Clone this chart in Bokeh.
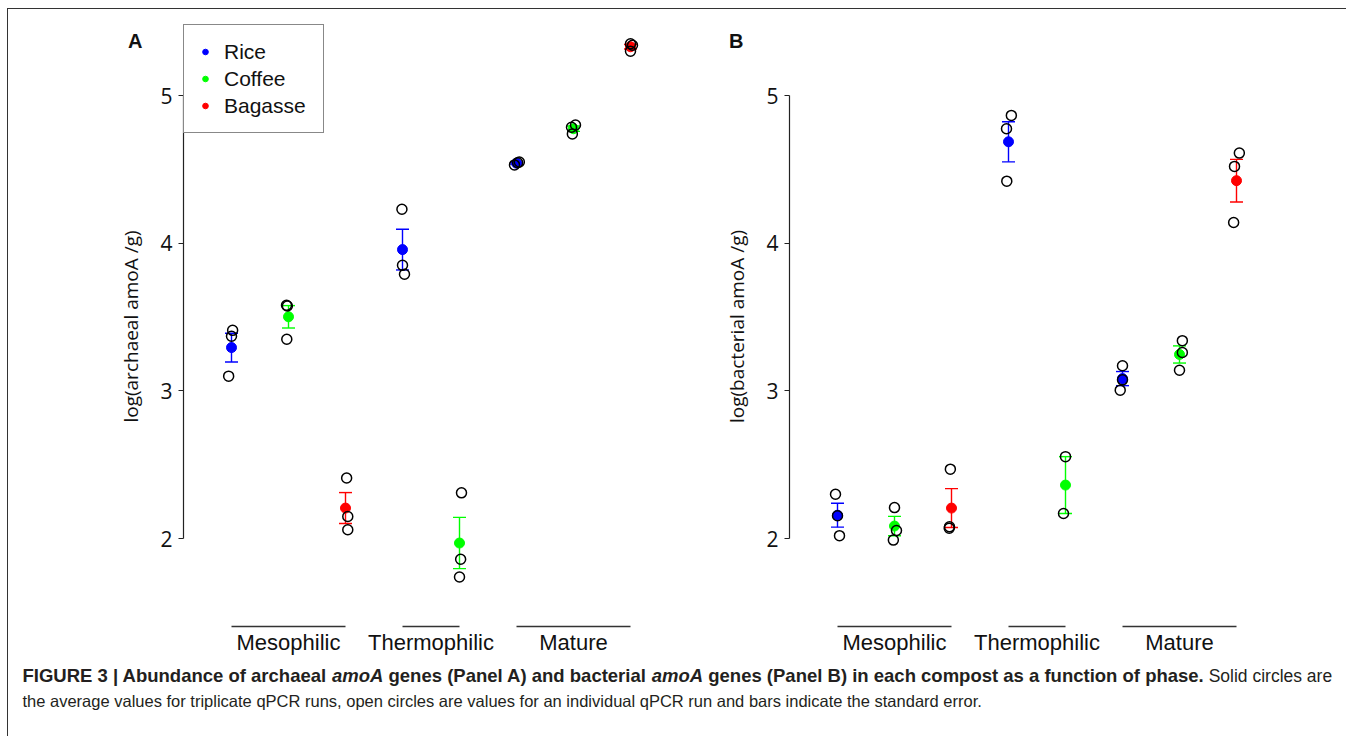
import json
import numpy as np
from bokeh.plotting import figure
from bokeh.models import (Range1d, Legend, LegendItem, ColumnDataSource, FixedTicker, LinearAxis,
                          CustomJSTickFormatter)
from bokeh.layouts import column, row
from bokeh.embed import file_html
from bokeh.resources import INLINE
from bokeh.core.properties import value

# ---------------- data ----------------
composts = ["Rice", "Coffee", "Bagasse"]
compost_colors = ["#0000ff", "#00ff00", "#ff0000"]
phases = ["Mesophilic", "Thermophilic", "Mature"]
phase_members = [["Rice", "Coffee", "Bagasse"], ["Rice", "Coffee"], ["Rice", "Coffee", "Bagasse"]]

# individual qPCR runs, log(archaeal amoA /g), in group order
archaeal_runs = [
    [3.41, 3.37, 3.10],
    [3.58, 3.575, 3.35],
    [2.41, 2.15, 2.06],
    [4.23, 3.85, 3.79],
    [2.31, 1.86, 1.74],
    [4.53, 4.545, 4.55],
    [4.74, 4.80, 4.785],
    [5.35, 5.30, 5.34],
]
archaeal_jitter = [
    [0.02, 0.0, -0.05],
    [-0.035, -0.02, -0.03],
    [0.02, 0.04, 0.04],
    [-0.01, 0.0, 0.035],
    [0.035, 0.02, 0.0],
    [-0.035, 0.02, 0.05],
    [-0.02, 0.035, -0.035],
    [0.0, 0.0, 0.035],
]
# individual qPCR runs, log(bacterial amoA /g)
bacterial_runs = [
    [2.30, 2.155, 2.02],
    [2.21, 2.055, 1.99],
    [2.47, 2.08, 2.07],
    [4.865, 4.775, 4.42],
    [2.555, 2.17],
    [3.17, 3.075, 3.005],
    [3.34, 3.26, 3.14],
    [4.61, 4.52, 4.14],
]
bacterial_jitter = [
    [-0.035, 0.0, 0.035],
    [0.0, 0.035, -0.02],
    [-0.02, -0.035, -0.04],
    [0.05, -0.035, -0.03],
    [0.0, -0.035],
    [0.0, 0.0, -0.04],
    [0.05, 0.05, 0.0],
    [0.05, -0.035, -0.05],
]
y_ticks = [2, 3, 4, 5]
y_labels = ["log(archaeal amoA /g)", "log(bacterial amoA /g)"]
panel_letters = ["A", "B"]

caption_line_1 = [  # (text, style)
    ("FIGURE 3 | Abundance of archaeal", "bold"),
    ("amoA", "bold italic"),
    ("genes (Panel A) and bacterial", "bold"),
    ("amoA", "bold italic"),
    ("genes (Panel B) in each compost as a function of phase.", "bold"),
    ("Solid circles are", "normal"),
]
caption_line_2 = ("the average values for triplicate qPCR runs, open circles are values for an "
                  "individual qPCR run and bars indicate the standard error.")

# ---------------- layout constants (page pixels) ----------------
PX_X = 57.0          # px per category step
PX_Y = 147.7         # px per log unit
Y_REF, Y_REF_PX = 5.0, 95.0
FIG_TOP = 9
FIG_BOTTOM = 664
FRAME_TOP = 24
FRAME_BOTTOM = 628
PHASE_LINE_PX = 626
LETTER_Y_PX = 40
CAP_HALF_PX = 6.5

groups = [c for members in phase_members for c in members]
color_of = dict(zip(composts, compost_colors))
positions = list(range(1, len(groups) + 1))


def ypx(v_px):
    return Y_REF - (v_px - Y_REF_PX) / PX_Y


def build_panel(runs, jitter, ylabel, letter, fig_left, fig_width, axis_x, frame_right,
                first_pos_x, letter_standoff, show_legend):
    x0 = 1 - (first_pos_x - axis_x) / PX_X
    x1 = 1 + (frame_right - first_pos_x) / PX_X
    p = figure(width=fig_width, height=FIG_BOTTOM - FIG_TOP,
               x_range=Range1d(x0, x1), y_range=Range1d(ypx(FRAME_BOTTOM), ypx(FRAME_TOP)),
               toolbar_location=None, output_backend="svg",
               min_border_left=axis_x - fig_left,
               min_border_right=fig_left + fig_width - frame_right,
               min_border_top=FRAME_TOP - FIG_TOP,
               min_border_bottom=FIG_BOTTOM - FRAME_BOTTOM)
    p.outline_line_color = None
    p.grid.grid_line_color = None
    p.background_fill_color = "white"
    p.border_fill_color = "white"

    ax = p.yaxis[0]
    ax.ticker = FixedTicker(ticks=y_ticks)
    ax.bounds = (min(y_ticks), max(y_ticks))
    ax.axis_line_color = "#222222"
    ax.axis_line_width = 1.2
    ax.major_tick_line_color = "#222222"
    ax.major_tick_line_width = 1.2
    ax.major_tick_out = 5
    ax.major_tick_in = 0
    ax.minor_tick_out = 0
    ax.minor_tick_in = 0
    ax.major_label_standoff = 6
    ax.major_label_text_font = "Open Sans"
    ax.major_label_text_font_size = "21px"
    ax.major_label_text_color = "#111111"
    ax.axis_label = ylabel
    ax.axis_label_text_font = "Open Sans"
    ax.axis_label_text_font_size = "19px"
    ax.axis_label_text_font_style = "normal"
    ax.axis_label_text_color = "#111111"
    ax.axis_label_standoff = 13

    # phase groups: line over the members, label on the x axis
    starts, ends = [], []
    k = 1
    for members in phase_members:
        starts.append(k)
        ends.append(k + len(members) - 1)
        k += len(members)
    centers = [(s + e) / 2 for s, e in zip(starts, ends)]

    xa = p.xaxis[0]
    xa.ticker = FixedTicker(ticks=centers)
    xa.formatter = CustomJSTickFormatter(code=f"const names = {json.dumps(phases)}; return names[index];")
    xa.axis_line_color = None
    xa.major_tick_line_color = None
    xa.minor_tick_line_color = None
    xa.major_tick_out = 0
    xa.major_tick_in = 0
    xa.major_label_standoff = 1
    xa.major_label_text_font = "Liberation Sans"
    xa.major_label_text_font_size = "22px"
    xa.major_label_text_color = "#111111"

    # panel letter, as a label-only axis stacked left of the value axis
    letter_y = ypx(LETTER_Y_PX)
    lax = LinearAxis(ticker=FixedTicker(ticks=[letter_y]),
                     formatter=CustomJSTickFormatter(code=f"return '{letter}'"),
                     axis_line_color=None, major_tick_line_color=None, minor_tick_line_color=None,
                     major_tick_out=0, major_tick_in=0, minor_tick_out=0, minor_tick_in=0,
                     major_label_standoff=letter_standoff,
                     major_label_text_font="Liberation Sans", major_label_text_font_style="bold",
                     major_label_text_font_size="20px", major_label_text_color="#111111")
    p.add_layout(lax, "left")

    means = [float(np.mean(r)) for r in runs]
    ses = [float(np.std(r, ddof=1) / np.sqrt(len(r))) for r in runs]
    cap = CAP_HALF_PX / PX_X

    # error bars
    eb = ColumnDataSource(dict(
        x=positions, lo=[m - s for m, s in zip(means, ses)], hi=[m + s for m, s in zip(means, ses)],
        xl=[x - cap for x in positions], xr=[x + cap for x in positions],
        color=[color_of[g] for g in groups]))
    p.segment(x0="x", y0="lo", x1="x", y1="hi", line_color="color", line_width=1.4, source=eb)
    p.segment(x0="xl", y0="hi", x1="xr", y1="hi", line_color="color", line_width=1.4, source=eb)
    p.segment(x0="xl", y0="lo", x1="xr", y1="lo", line_color="color", line_width=1.4, source=eb)

    # means
    mean_r = {}
    for c in composts:
        idx = [i for i, g in enumerate(groups) if g == c]
        src = ColumnDataSource(dict(x=[positions[i] for i in idx], y=[means[i] for i in idx]))
        mean_r[c] = p.scatter("x", "y", source=src, marker="circle", size=10,
                              fill_color=color_of[c], line_color=color_of[c])

    # individual runs
    rx, ry = [], []
    for pos, vals, jit in zip(positions, runs, jitter):
        for v, j in zip(vals, jit):
            rx.append(pos + j)
            ry.append(v)
    p.scatter(rx, ry, marker="circle", size=10, fill_color=None, line_color="black", line_width=1.5)

    # phase lines
    yl = ypx(PHASE_LINE_PX)
    p.segment(x0=starts, y0=[yl] * 3, x1=ends, y1=[yl] * 3, line_color="#333333", line_width=1.4)

    if show_legend:
        legend = Legend(items=[LegendItem(label=c, renderers=[mean_r[c]]) for c in composts],
                        location="top_left", margin=0, padding=14, spacing=2,
                        label_standoff=12, glyph_width=14, glyph_height=25, label_height=25,
                        label_width=85, label_text_font="Liberation Sans",
                        label_text_font_size="21px", label_text_color="#111111",
                        border_line_color="#111111", border_line_width=1.2,
                        background_fill_color="white", background_fill_alpha=1.0)
        p.add_layout(legend)
    return p


pA = build_panel(archaeal_runs, archaeal_jitter, y_labels[0], panel_letters[0],
                 fig_left=8, fig_width=682, axis_x=183, frame_right=680,
                 first_pos_x=231, letter_standoff=-27, show_legend=True)
pB = build_panel(bacterial_runs, bacterial_jitter, y_labels[1], panel_letters[1],
                 fig_left=690, fig_width=656, axis_x=789, frame_right=1300,
                 first_pos_x=837, letter_standoff=-22, show_legend=False)

# ---------------- caption ----------------
W_REG = {' ': 278, 'a': 556, 'b': 556, 'c': 500, 'd': 556, 'e': 556, 'f': 278, 'g': 556, 'h': 556,
         'i': 222, 'l': 222, 'm': 833, 'n': 556, 'o': 556, 'p': 556, 'q': 556, 'r': 333, 's': 500,
         't': 278, 'u': 556, 'v': 500, 'w': 722, 'y': 500, ',': 278, '.': 278, 'P': 667, 'C': 722,
         'R': 722, 'S': 667}
W_BOLD = {' ': 278, 'a': 556, 'b': 611, 'c': 556, 'd': 611, 'e': 556, 'f': 333, 'g': 611, 'h': 611,
          'i': 278, 'l': 278, 'm': 889, 'n': 611, 'o': 611, 'p': 611, 'r': 389, 's': 556, 't': 333,
          'u': 611, 'w': 778, 'y': 556, '.': 278, '(': 333, ')': 333, '|': 280, '3': 556, 'A': 722,
          'B': 722, 'E': 667, 'F': 611, 'G': 778, 'I': 278, 'P': 667, 'R': 722, 'U': 722}


def text_w(s, table, size):
    return sum(table.get(ch, 556) for ch in s) / 1000.0 * size


CAP_LEFT, CAP_TOP, CAP_W, CAP_H = 8, 664, 1338, 72
BOLD_SIZE, REG1_SIZE, REG2_SIZE = 18.5, 17.5, 16.5
cap = figure(width=CAP_W, height=CAP_H, x_range=Range1d(0, CAP_W), y_range=Range1d(CAP_H, 0),
             toolbar_location=None, output_backend="svg", min_border=0,
             x_axis_location=None, y_axis_location=None)
cap.outline_line_color = None
cap.grid.grid_line_color = None

x = 22 - CAP_LEFT
y1 = 675 - CAP_TOP
y2 = 700 - CAP_TOP
for i, (s, style) in enumerate(caption_line_1):
    size = REG1_SIZE if style == "normal" else BOLD_SIZE
    table = W_REG if style == "normal" else W_BOLD
    if i > 0:
        x += text_w(" ", table, size)
    cap.text(x=[x], y=[y1], text=[s], text_align="left", text_baseline="middle",
             text_font=value("Liberation Sans"), text_font_style=style,
             text_font_size=f"{size}px", text_color="#231f20")
    x += text_w(s, table, size)
cap.text(x=[22 - CAP_LEFT], y=[y2], text=[caption_line_2], text_align="left", text_baseline="middle",
         text_font=value("Liberation Sans"), text_font_size=f"{REG2_SIZE}px", text_color="#231f20")

layout = column(row(pA, pB), cap,
                styles={"border-top": "1px solid #333333", "border-left": "1px solid #333333",
                        "margin-left": "7px", "margin-top": "8px"})

open("out.html", "w").write(file_html(layout, INLINE))
